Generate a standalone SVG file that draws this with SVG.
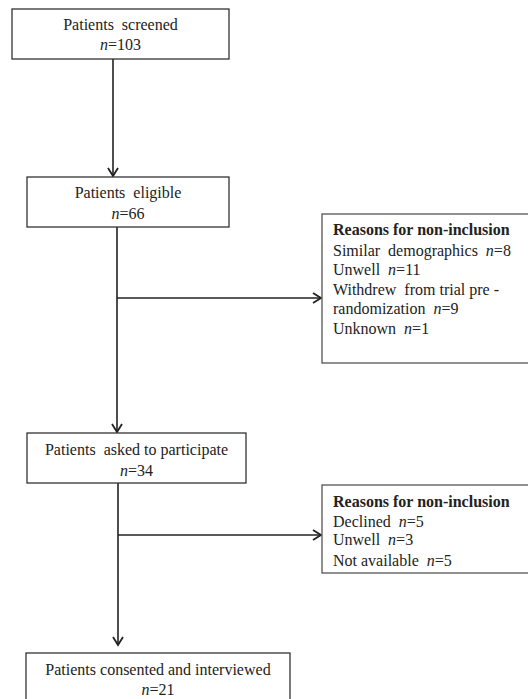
<svg xmlns="http://www.w3.org/2000/svg" width="528" height="699" viewBox="0 0 528 699">
<style>
  text { font-family: "Liberation Serif", "Times New Roman", serif; font-size: 16px; fill: #222; }
  .c { text-anchor: middle; }
  .b { font-weight: bold; }
  .i { font-style: italic; }
  .box { fill: #fff; stroke: #333; stroke-width: 1.3; }
  .rbox { fill: #fff; stroke: #555; stroke-width: 1.3; }
  .ln { stroke: #222; stroke-width: 1.6; fill: none; }
</style>
<defs>
  <marker id="ah" markerUnits="userSpaceOnUse" markerWidth="14" markerHeight="14" refX="10" refY="6" orient="auto">
    <path d="M2,1 L10,6 L2,11" fill="none" stroke="#222" stroke-width="1.8"/>
  </marker>
</defs>
<g id="connectors">
  <line class="ln" x1="113" y1="59" x2="113" y2="176" marker-end="url(#ah)"/>
  <line class="ln" x1="117" y1="227" x2="117" y2="432" marker-end="url(#ah)"/>
  <line class="ln" x1="117" y1="298" x2="321" y2="298" marker-end="url(#ah)"/>
  <line class="ln" x1="118" y1="483" x2="118" y2="645" marker-end="url(#ah)"/>
  <line class="ln" x1="118" y1="535" x2="321" y2="535" marker-end="url(#ah)"/>
</g>
<g id="screened">
  <rect class="box" x="12" y="9" width="217" height="50"/>
  <text class="c" x="120.5" y="30" xml:space="preserve">Patients  screened</text>
  <text class="c" x="120.5" y="50"><tspan class="i">n</tspan>=103</text>
</g>
<g id="eligible">
  <rect class="box" x="27" y="177" width="202" height="50"/>
  <text class="c" x="128" y="198" xml:space="preserve">Patients  eligible</text>
  <text class="c" x="128" y="219"><tspan class="i">n</tspan>=66</text>
</g>
<g id="reasons1">
  <rect class="rbox" x="322" y="214" width="210" height="149"/>
  <text class="b" x="333" y="235">Reasons for non-inclusion</text>
  <text x="333" y="256" xml:space="preserve">Similar  demographics  <tspan class="i">n</tspan>=8</text>
  <text x="333" y="275" xml:space="preserve">Unwell  <tspan class="i">n</tspan>=11</text>
  <text x="333" y="295" xml:space="preserve">Withdrew  from trial pre -</text>
  <text x="333" y="314" xml:space="preserve">randomization  <tspan class="i">n</tspan>=9</text>
  <text x="333" y="334" xml:space="preserve">Unknown  <tspan class="i">n</tspan>=1</text>
</g>
<g id="asked">
  <rect class="box" x="27" y="433" width="219" height="50"/>
  <text class="c" x="136.5" y="455" xml:space="preserve">Patients  asked to participate</text>
  <text class="c" x="136.5" y="476"><tspan class="i">n</tspan>=34</text>
</g>
<g id="reasons2">
  <rect class="rbox" x="322" y="485" width="210" height="88"/>
  <text class="b" x="333" y="507">Reasons for non-inclusion</text>
  <text x="333" y="527" xml:space="preserve">Declined  <tspan class="i">n</tspan>=5</text>
  <text x="333" y="545" xml:space="preserve">Unwell  <tspan class="i">n</tspan>=3</text>
  <text x="333" y="566" xml:space="preserve">Not available  <tspan class="i">n</tspan>=5</text>
</g>
<g id="consented">
  <rect class="box" x="26" y="653" width="264" height="60"/>
  <text class="c" x="158" y="675">Patients consented and interviewed</text>
  <text class="c" x="158" y="695"><tspan class="i">n</tspan>=21</text>
</g>
</svg>
